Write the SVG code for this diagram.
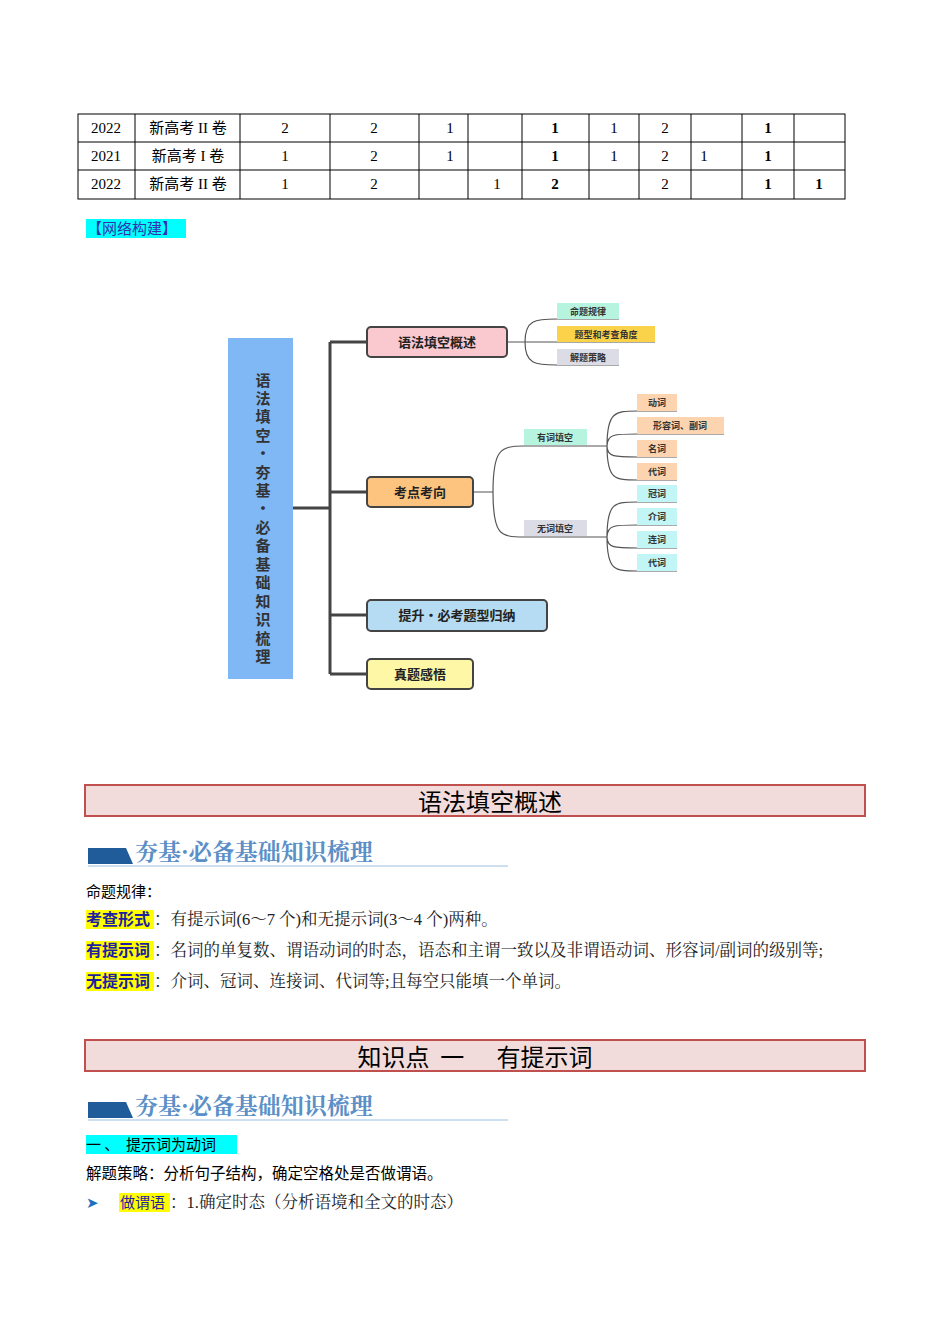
<svg xmlns="http://www.w3.org/2000/svg" width="950" height="1344" viewBox="0 0 950 1344">
<style>
.t{font-family:"Liberation Serif","Noto Sans CJK SC",serif;font-size:15px;fill:#000;text-anchor:middle}
.n{font-family:"Noto Sans CJK SC",sans-serif;font-weight:bold;font-size:13px;fill:#222;text-anchor:middle}
.s{font-family:"Noto Sans CJK SC",sans-serif;font-weight:bold;font-size:9px;fill:#333;text-anchor:middle}
.nb{stroke:#444;stroke-width:2}
.c{fill:none;stroke:#555;stroke-width:1.2}
.tr{fill:none;stroke:#444;stroke-width:3}
.b{font-family:"Liberation Serif","Noto Serif CJK SC","Noto Sans CJK SC",serif;font-size:16.5px;fill:#222}
.hl{font-family:"Noto Sans CJK SC",sans-serif;font-size:16px;fill:#1f1fa0;font-weight:bold}
.h{font-family:"Noto Sans CJK SC",sans-serif;font-size:24px;fill:#000;text-anchor:middle}
.bn{font-family:"Noto Serif CJK SC","Noto Sans CJK SC",serif;font-size:23px;font-weight:bold;fill:#5b8fc7}
</style>
<g id="table" stroke="#000" stroke-width="1" fill="none">
<rect x="78" y="114" width="767" height="85"/>
<line x1="78" y1="142" x2="845" y2="142"/><line x1="78" y1="170" x2="845" y2="170"/>
<line x1="135" y1="114" x2="135" y2="199"/><line x1="240" y1="114" x2="240" y2="199"/><line x1="330" y1="114" x2="330" y2="199"/><line x1="419" y1="114" x2="419" y2="199"/><line x1="468" y1="114" x2="468" y2="199"/><line x1="522" y1="114" x2="522" y2="199"/><line x1="589" y1="114" x2="589" y2="199"/><line x1="639" y1="114" x2="639" y2="199"/><line x1="691" y1="114" x2="691" y2="199"/><line x1="742" y1="114" x2="742" y2="199"/><line x1="794" y1="114" x2="794" y2="199"/>
</g>
<g id="tabletext">
<text class="t" x="106" y="133">2022</text><text class="t" x="188" y="133">新高考 II 卷</text><text class="t" x="285" y="133">2</text><text class="t" x="374" y="133">2</text><text class="t" x="450" y="133">1</text><text class="t" x="555" y="133" font-weight="bold">1</text><text class="t" x="614" y="133">1</text><text class="t" x="665" y="133">2</text><text class="t" x="768" y="133" font-weight="bold">1</text>
<text class="t" x="106" y="161">2021</text><text class="t" x="188" y="161">新高考 I 卷</text><text class="t" x="285" y="161">1</text><text class="t" x="374" y="161">2</text><text class="t" x="450" y="161">1</text><text class="t" x="555" y="161" font-weight="bold">1</text><text class="t" x="614" y="161">1</text><text class="t" x="665" y="161">2</text><text class="t" x="704" y="161">1</text><text class="t" x="768" y="161" font-weight="bold">1</text>
<text class="t" x="106" y="189">2022</text><text class="t" x="188" y="189">新高考 II 卷</text><text class="t" x="285" y="189">1</text><text class="t" x="374" y="189">2</text><text class="t" x="497" y="189">1</text><text class="t" x="555" y="189" font-weight="bold">2</text><text class="t" x="665" y="189">2</text><text class="t" x="768" y="189" font-weight="bold">1</text><text class="t" x="819" y="189" font-weight="bold">1</text>
</g>
<g id="netlabel"><rect x="86" y="219" width="100" height="19" fill="#00ffff"/><text x="87" y="234" font-family="Noto Sans CJK SC,sans-serif" font-size="15" fill="#3030b0">【网络构建】</text></g>
<g id="connectors">
<path class="tr" d="M293 508H330M330 342V674M330 342H367M330 492H367M330 615H367M330 674H367"/>
<path class="c" d="M507 342H525M525 342C525 320 535 319 557 319H619M525 342H655M525 342C525 364 535 365 557 365H619"/>
<path class="c" d="M473 492H493M493 492C493 450 500 446 524 446H607M493 492C493 535 500 537 524 537H607"/>
<path class="c" d="M607 446C607 412 615 411 637 411H677M607 446C607 434 615 434 637 434H724M607 446C607 457 615 457 637 457H677M607 446C607 480 615 480 637 480H677"/>
<path class="c" d="M607 537C607 502 615 502 637 502H677M607 537C607 525 615 525 637 525H677M607 537C607 548 615 548 637 548H677M607 537C607 571 615 571 637 571H677"/>
</g>
<g id="root"><rect x="228" y="338" width="65" height="341" fill="#7fb8f5"/>
<text font-family="Noto Sans CJK SC,sans-serif" font-weight="bold" font-size="15" fill="#333" text-anchor="middle"><tspan x="263" y="386">语</tspan><tspan x="263" y="404">法</tspan><tspan x="263" y="422">填</tspan><tspan x="263" y="441">空</tspan><tspan x="263" y="459">·</tspan><tspan x="263" y="478">夯</tspan><tspan x="263" y="496">基</tspan><tspan x="263" y="514">·</tspan><tspan x="263" y="533">必</tspan><tspan x="263" y="551">备</tspan><tspan x="263" y="570">基</tspan><tspan x="263" y="588">础</tspan><tspan x="263" y="607">知</tspan><tspan x="263" y="625">识</tspan><tspan x="263" y="644">梳</tspan><tspan x="263" y="662">理</tspan></text></g>
<g id="n1"><rect class="nb" x="367" y="327" width="140" height="30" rx="4" fill="#f9c9cf"/><text class="n" x="437" y="347">语法填空概述</text></g>
<g id="n2"><rect class="nb" x="367" y="477" width="106" height="30" rx="4" fill="#fdc47f"/><text class="n" x="420" y="497">考点考向</text></g>
<g id="n3"><rect class="nb" x="367" y="600" width="180" height="31" rx="4" fill="#b5dcf3"/><text class="n" x="457" y="620">提升·必考题型归纳</text></g>
<g id="n4"><rect class="nb" x="367" y="659" width="106" height="30" rx="4" fill="#fdf7a6"/><text class="n" x="420" y="679">真题感悟</text></g>
<g id="leaves1">
<rect x="557" y="303" width="62" height="16" fill="#b6f4e0"/><text class="s" x="588" y="315">命题规律</text>
<rect x="557" y="326" width="98" height="16" fill="#fbd34b"/><text class="s" x="606" y="338">题型和考查角度</text>
<rect x="557" y="349" width="62" height="16" fill="#dcdce6"/><text class="s" x="588" y="361">解题策略</text>
</g>
<g id="mid">
<rect x="524" y="429" width="63" height="16" fill="#b6f4e0"/><text class="s" x="555" y="441">有词填空</text>
<rect x="524" y="520" width="63" height="16" fill="#dcdce6"/><text class="s" x="555" y="532">无词填空</text>
</g>
<g id="leaves2">
<rect x="637" y="394" width="40" height="17" fill="#fcd5b0"/><text class="s" x="657" y="406">动词</text>
<rect x="637" y="417" width="87" height="17" fill="#fcd5b0"/><text class="s" x="680" y="429">形容词、副词</text>
<rect x="637" y="440" width="40" height="17" fill="#fcd5b0"/><text class="s" x="657" y="452">名词</text>
<rect x="637" y="463" width="40" height="17" fill="#fcd5b0"/><text class="s" x="657" y="475">代词</text>
<rect x="637" y="485" width="40" height="17" fill="#c2f5f5"/><text class="s" x="657" y="497">冠词</text>
<rect x="637" y="508" width="40" height="17" fill="#c2f5f5"/><text class="s" x="657" y="520">介词</text>
<rect x="637" y="531" width="40" height="17" fill="#c2f5f5"/><text class="s" x="657" y="543">连词</text>
<rect x="637" y="554" width="40" height="17" fill="#c2f5f5"/><text class="s" x="657" y="566">代词</text>
</g>
<g id="sec1">
<rect x="85" y="785" width="780" height="31" fill="#f2dcdb" stroke="#c0504d" stroke-width="2"/><text class="h" x="490" y="811">语法填空概述</text>
<polygon points="88,848 126,848 133,864 88,864" fill="#1f5c99"/><text class="bn" x="135" y="860">夯基·必备基础知识梳理</text>
<line x1="88" y1="866" x2="508" y2="866" stroke="#9cc0e0" stroke-width="1"/>
<text x="86" y="897" font-family="Noto Sans CJK SC,sans-serif" font-size="15" fill="#000">命题规律：</text>
<rect x="86" y="910" width="68" height="19" fill="#ffff00"/><text class="hl" x="86" y="925">考查形式</text><text class="b" x="154" y="925">：有提示词(6～7 个)和无提示词(3～4 个)两种。</text>
<rect x="86" y="941" width="68" height="19" fill="#ffff00"/><text class="hl" x="86" y="956">有提示词</text><text class="b" x="154" y="956">：名词的单复数、谓语动词的时态，语态和主谓一致以及非谓语动词、形容词/副词的级别等;</text>
<rect x="86" y="972" width="68" height="19" fill="#ffff00"/><text class="hl" x="86" y="987">无提示词</text><text class="b" x="154" y="987">：介词、冠词、连接词、代词等;且每空只能填一个单词。</text>
</g>
<g id="sec2">
<rect x="85" y="1040" width="780" height="31" fill="#f2dcdb" stroke="#c0504d" stroke-width="2"/><text class="h" x="475" y="1066" xml:space="preserve">知识点  一      有提示词</text>
<polygon points="88,1102 126,1102 133,1118 88,1118" fill="#1f5c99"/><text class="bn" x="135" y="1114">夯基·必备基础知识梳理</text>
<line x1="88" y1="1120" x2="508" y2="1120" stroke="#9cc0e0" stroke-width="1"/>
<rect x="86" y="1135" width="151" height="19" fill="#00ffff"/><text x="86" y="1150" font-family="Noto Sans CJK SC,sans-serif" font-size="15" fill="#000" xml:space="preserve">一 、  提示词为动词</text>
<text x="86" y="1179" font-family="Noto Sans CJK SC,sans-serif" font-size="15.5" fill="#000">解题策略：分析句子结构，确定空格处是否做谓语。</text>
<text x="86" y="1208" font-family="DejaVu Sans,sans-serif" font-size="15" fill="#1f6fc0">➤</text>
<rect x="119" y="1193" width="51" height="19" fill="#ffff00"/><text x="120" y="1208" font-family="Noto Sans CJK SC,sans-serif" font-size="15" fill="#1f1fa0">做谓语</text>
<text class="b" x="170" y="1208">：1.确定时态（分析语境和全文的时态）</text>
</g>
</svg>
